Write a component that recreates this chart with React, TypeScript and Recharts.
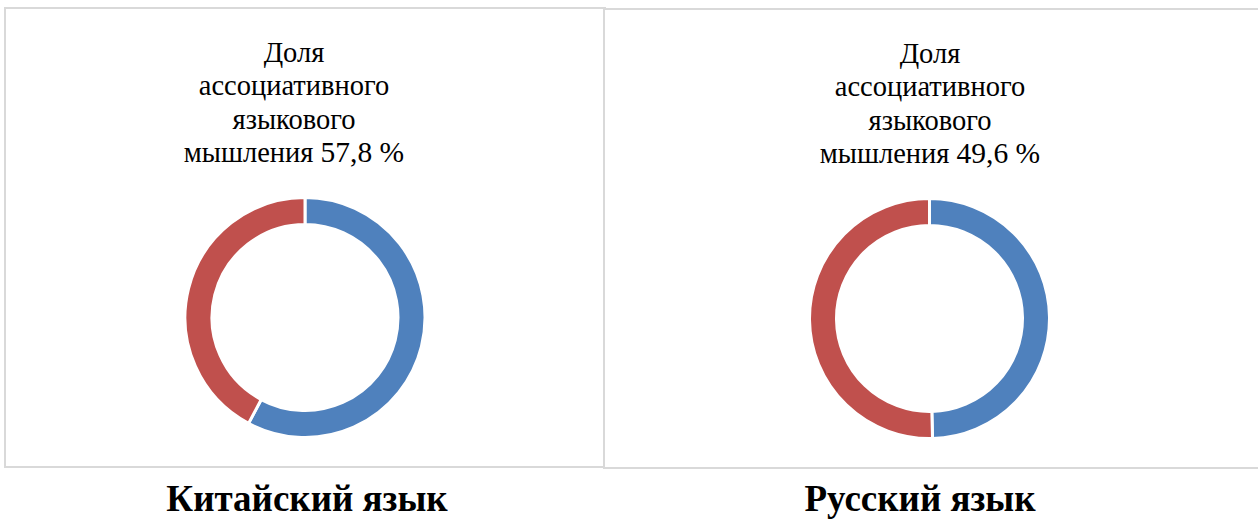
import React from 'react';
import { PieChart, Pie, Cell } from 'recharts';

const segmentNames = ['Ассоциативное', 'Другое'];
const chineseShares = [57.8, 42.2];
const russianShares = [49.6, 50.4];
const titleLines = ['Доля', 'ассоциативного', 'языкового', 'мышления'];
const languages = ['Китайский язык', 'Русский язык'];

const COLORS = ['#4F81BD', '#C0504D'];
const SERIF = '"Liberation Serif", "Times New Roman", serif';

const toData = (values: number[]) => values.map((v, i) => ({ name: segmentNames[i], value: v }));

interface PanelProps {
    left: number;
    top: number;
    width: number;
    height: number;
    share: number[];
    titleX: number;
    pieX: number;
}

function DonutPanel({ left, top, width, height, share, titleX, pieX }: PanelProps) {
    return (
        <div style={{ position: 'absolute', left, top, width, height, border: '2px solid #d9d9d9', boxSizing: 'border-box', background: '#fff' }}>
            <div style={{ position: 'absolute', left: titleX - 170, top: 26.5, width: 340, textAlign: 'center', fontFamily: SERIF, fontSize: 28.5, lineHeight: '33.5px', color: '#000' }}>
                {titleLines.slice(0, 3).map((l) => (
                    <div key={l}>{l}</div>
                ))}
                <div>
                    {titleLines[3]} <span style={{ fontSize: 29.5 }}>{share[0].toString().replace('.', ',')} %</span>
                </div>
            </div>
            <div style={{ position: 'absolute', left: 0, top: 0 }}>
                <PieChart width={width - 4} height={height - 4} margin={{ top: 0, right: 0, bottom: 0, left: 0 }}>
                    <Pie
                        data={toData(share)}
                        dataKey="value"
                        nameKey="name"
                        cx={pieX}
                        cy={308.5}
                        startAngle={90}
                        endAngle={-270}
                        innerRadius={93}
                        outerRadius={120}
                        stroke="#fff"
                        strokeWidth={3}
                        isAnimationActive={false}
                    >
                        {share.map((_, i) => (
                            <Cell key={`cell-${i}`} fill={COLORS[i]} />
                        ))}
                    </Pie>
                </PieChart>
            </div>
        </div>
    );
}

export default function App() {
    return (
        <div style={{ position: 'absolute', left: 0, top: 0, width: 1258, height: 519, background: '#fff', overflow: 'hidden' }}>
            <DonutPanel left={4} top={7} width={602} height={461} share={chineseShares} titleX={288} pieX={299} />
            <DonutPanel left={603} top={8} width={664} height={461} share={russianShares} titleX={325} pieX={324.5} />
            {languages.map((lang, i) => (
                <div
                    key={lang}
                    style={{
                        position: 'absolute',
                        left: (i === 0 ? 307 : 920) - 200,
                        top: 477,
                        width: 400,
                        textAlign: 'center',
                        fontFamily: SERIF,
                        fontWeight: 'bold',
                        fontSize: 37,
                        lineHeight: '44px',
                        color: '#000',
                    }}
                >
                    {lang}
                </div>
            ))}
        </div>
    );
}
